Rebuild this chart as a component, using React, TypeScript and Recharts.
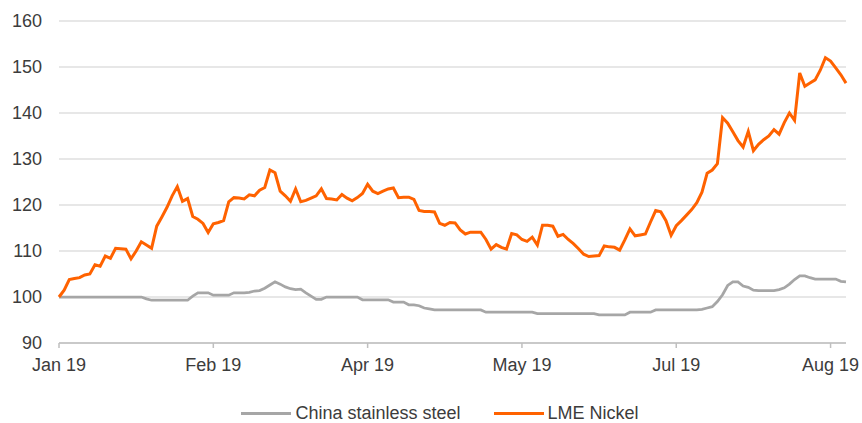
import React from 'react';
import { LineChart, Line, XAxis, YAxis, CartesianGrid, Legend } from 'recharts';

// Category positions (trading days) where the axis is labelled
const tickIndices = [0, 30, 60, 90, 120, 150];
const tickLabels = ['Jan 19', 'Feb 19', 'Apr 19', 'May 19', 'Jul 19', 'Aug 19'];
const yTicks = [90, 100, 110, 120, 130, 140, 150, 160];

const seriesNames = ['China stainless steel', 'LME Nickel'];
const seriesColors = ['#a6a6a6', '#ff6200'];

// China stainless steel (index, Jan 2019 = 100)
const steel = [
  100.0, 100.0, 100.0, 100.0, 100.0, 100.0, 100.0, 100.0, 100.0, 100.0,
  100.0, 100.0, 100.0, 100.0, 100.0, 100.0, 100.0, 99.6, 99.3, 99.3,
  99.3, 99.3, 99.3, 99.3, 99.3, 99.3, 100.2, 100.9, 100.9, 100.9,
  100.4, 100.4, 100.4, 100.4, 100.9, 100.9, 100.9, 101.0, 101.3, 101.4,
  101.9, 102.6, 103.3, 102.8, 102.2, 101.8, 101.6, 101.7, 100.9, 100.2,
  99.5, 99.5, 100.0, 100.0, 100.0, 100.0, 100.0, 100.0, 100.0, 99.4,
  99.4, 99.4, 99.4, 99.4, 99.4, 98.9, 98.9, 98.9, 98.3, 98.3,
  98.1, 97.6, 97.4, 97.2, 97.2, 97.2, 97.2, 97.2, 97.2, 97.2,
  97.2, 97.2, 97.2, 96.7, 96.7, 96.7, 96.7, 96.7, 96.7, 96.7,
  96.7, 96.7, 96.7, 96.4, 96.4, 96.4, 96.4, 96.4, 96.4, 96.4,
  96.4, 96.4, 96.4, 96.4, 96.4, 96.1, 96.1, 96.1, 96.1, 96.1,
  96.1, 96.7, 96.7, 96.7, 96.7, 96.7, 97.2, 97.2, 97.2, 97.2,
  97.2, 97.2, 97.2, 97.2, 97.2, 97.3, 97.6, 97.9, 99.0, 100.5,
  102.5, 103.3, 103.3, 102.4, 102.1, 101.5, 101.4, 101.4, 101.4, 101.4,
  101.6, 102.0, 102.8, 103.8, 104.6, 104.6, 104.2, 103.9, 103.9, 103.9,
  103.9, 103.9, 103.4, 103.3,
];

// LME Nickel (index, Jan 2019 = 100)
const nickel = [
  100.0, 101.5, 103.8, 104.0, 104.2, 104.8, 105.0, 107.0, 106.7, 108.9,
  108.4, 110.6, 110.5, 110.4, 108.3, 110.0, 112.0, 111.3, 110.6, 115.4,
  117.4, 119.5, 122.0, 124.0, 120.8, 121.4, 117.5, 116.9, 116.0, 114.0,
  115.9, 116.2, 116.6, 120.7, 121.6, 121.5, 121.3, 122.2, 122.0, 123.2,
  123.8, 127.6, 127.0, 123.0, 122.0, 120.8, 123.5, 120.7, 121.0, 121.5,
  122.0, 123.5, 121.4, 121.3, 121.1, 122.3, 121.5, 120.9, 121.6, 122.5,
  124.5, 123.0, 122.5, 123.0, 123.5, 123.7, 121.6, 121.7, 121.7, 121.2,
  118.8, 118.6, 118.6, 118.5, 116.0, 115.6, 116.2, 116.1, 114.6, 113.7,
  114.1, 114.1, 114.1, 112.5, 110.4, 111.4, 110.8, 110.4, 113.8, 113.5,
  112.5, 112.1, 113.0, 111.3, 115.6, 115.6, 115.4, 113.2, 113.6, 112.5,
  111.6, 110.5, 109.3, 108.8, 108.9, 109.0, 111.1, 110.9, 110.8, 110.2,
  112.4, 114.8, 113.3, 113.5, 113.7, 116.3, 118.8, 118.5, 116.6, 113.4,
  115.5, 116.6, 117.8, 119.0, 120.5, 122.8, 126.9, 127.6, 129.0, 139.0,
  137.8, 135.9, 134.0, 132.6, 136.0, 131.8, 133.2, 134.2, 135.0, 136.4,
  135.4, 137.9, 140.0, 138.4, 148.7, 145.8, 146.5, 147.2, 149.3, 152.0,
  151.3, 149.8, 148.3, 146.5,
];

const data = nickel.map((v, i) => ({ i, steel: steel[i], nickel: v }));

const FONT = '"Liberation Sans", Arial, sans-serif';
const TEXT = '#3c3c3c';

const formatX = (v: number) => {
  const k = tickIndices.indexOf(v);
  return k >= 0 ? tickLabels[k] : '';
};

function LegendContent(props: any) {
  const payload = props.payload || [];
  return (
    <div
      style={{
        height: 30,
        paddingTop: 10,
        paddingLeft: 18,
        boxSizing: 'border-box',
        display: 'flex',
        justifyContent: 'center',
        alignItems: 'center',
        fontFamily: FONT,
        fontSize: 18,
        color: TEXT,
      }}
    >
      {payload.map((p: any, k: number) => (
        <div key={k} style={{ display: 'flex', alignItems: 'center', marginLeft: k ? 33 : 0 }}>
          <span style={{ display: 'inline-block', width: 50, height: 3, background: p.color, marginRight: 4 }} />
          <span style={{ lineHeight: '20px' }}>{p.value}</span>
        </div>
      ))}
    </div>
  );
}

export default function App() {
  return (
    <div style={{ position: 'absolute', left: 0, top: 0, width: 862, height: 423, background: '#fff' }}>
      <LineChart
        width={862}
        height={423}
        data={data}
        margin={{ top: 21, right: 16, bottom: 0, left: 0 }}
      >
        <CartesianGrid vertical={false} stroke="#cfcfcf" strokeWidth={1} />
        <XAxis
          dataKey="i"
          type="number"
          domain={[0, nickel.length - 1]}
          ticks={tickIndices}
          tickFormatter={formatX}
          height={50}
          axisLine={{ stroke: '#bfbfbf', strokeWidth: 1.5 }}
          tickLine={{ stroke: '#bfbfbf', strokeWidth: 1.5 }}
          tickSize={5}
          tickMargin={10}
          tick={{ fill: TEXT, fontSize: 18, fontFamily: FONT }}
          interval={0}
        />
        <YAxis
          domain={[90, 160]}
          ticks={yTicks}
          width={59}
          axisLine={false}
          tickLine={false}
          tickSize={0}
          tickMargin={17}
          tick={{ fill: TEXT, fontSize: 18, fontFamily: FONT }}
          interval={0}
        />
        <Legend
          verticalAlign="bottom"
          content={<LegendContent />}
          wrapperStyle={{ left: 0, width: 862 }}
        />
        <Line
          type="linear"
          dataKey="steel"
          name={seriesNames[0]}
          stroke={seriesColors[0]}
          strokeWidth={2.75}
          dot={false}
          isAnimationActive={false}
        />
        <Line
          type="linear"
          dataKey="nickel"
          name={seriesNames[1]}
          stroke={seriesColors[1]}
          strokeWidth={3}
          dot={false}
          isAnimationActive={false}
        />
      </LineChart>
    </div>
  );
}
